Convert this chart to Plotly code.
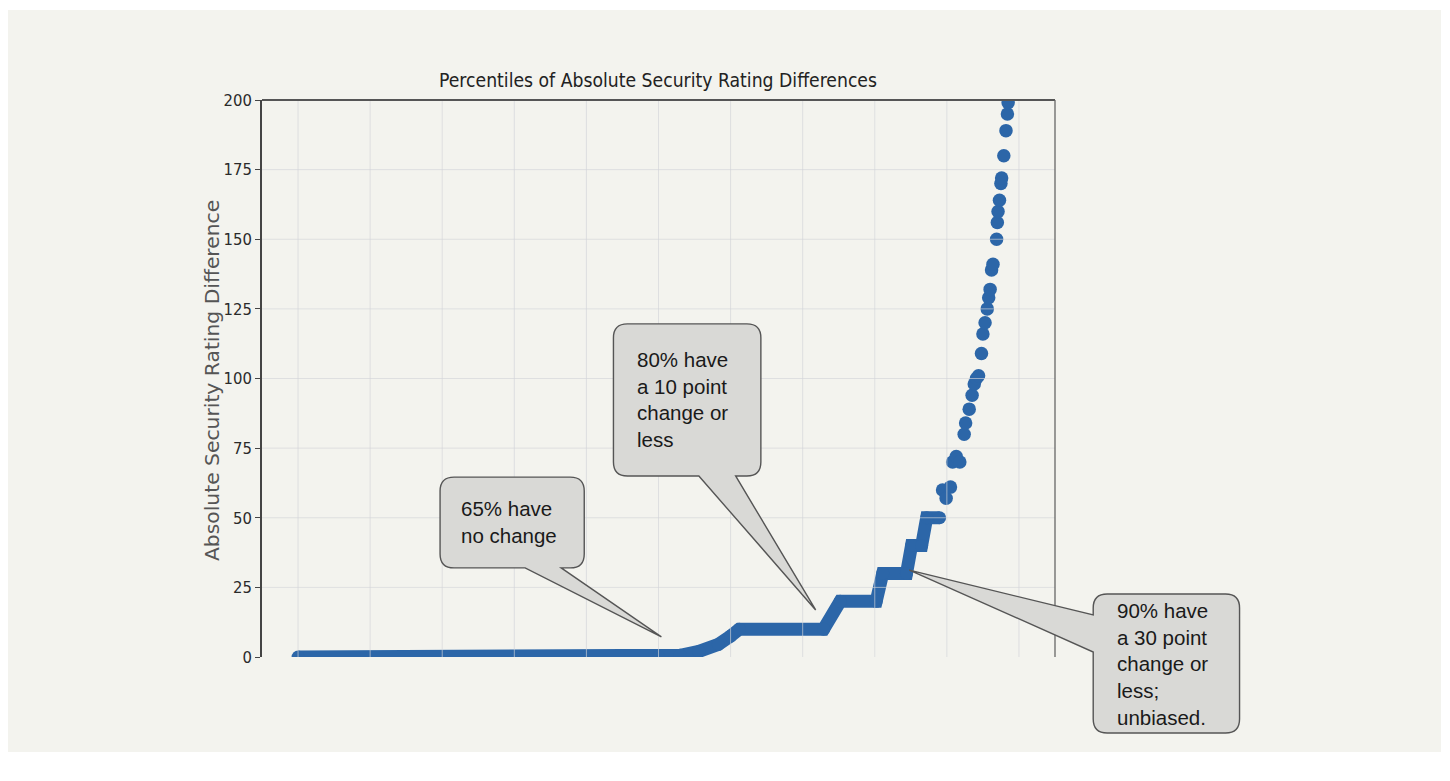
import plotly.graph_objects as go

# ---------------- data ----------------
band_pct = [0, 50, 53, 55.6, 58.3, 60.0, 61.2, 72.9, 75.2, 80.2, 81.1, 84.4, 85.1, 86.5, 87.2, 89.0]
band_val = [0, 0, 0.6, 2, 4.5, 7.5, 10, 10, 20, 20, 30, 30, 40, 40, 50, 50]

dot_pct = [89.4, 89.9, 90.5, 90.8, 91.3, 91.8, 92.4, 92.6, 93.1, 93.5, 93.8, 94.1, 94.4,
           94.8, 95.0, 95.3, 95.6, 95.8, 96.0, 96.2, 96.4, 96.9, 97.0, 97.1, 97.3, 97.5,
           97.6, 97.9, 98.2, 98.4, 98.5]
dot_val = [60, 57, 61, 70, 72, 70, 80, 84, 89, 94, 98, 100, 101,
           109, 116, 120, 125, 129, 132, 139, 141, 150, 156, 160, 164, 170,
           172, 180, 189, 195, 199]

y_ticks = [0, 25, 50, 75, 100, 125, 150, 175, 200]
x_grid = [0, 10, 20, 30, 40, 50, 60, 70, 80, 90, 100]

title_text = "Percentiles of Absolute Security Rating Differences"
y_title = "Absolute Security Rating Difference"

# callouts: text, box (x0, x1, y0, y1 in data units), tail base, tip (data units)
callouts = [
    dict(text="65% have<br>no change", box=(19.7, 39.7, 32.0, 64.6),
         side="bottom", base=(31.5, 36.5), tip=(50.4, 7.2), tx=22.3),
    dict(text="80% have<br>a 10 point<br>change or<br>less", box=(43.75, 64.2, 65.0, 119.6),
         side="bottom", base=(55.6, 60.7), tip=(71.8, 16.9), tx=46.8),
    dict(text="90% have<br>a 30 point<br>change or<br>less;<br>unbiased.", box=(110.3, 130.6, -27.3, 22.6),
         side="left", base=(15.1, 1.8), tip=(84.8, 31.2), tx=113.3),
]

# ---------------- layout geometry (page pixels) ----------------
OX, OY = 8, 8                     # page body margin
W, H = 1450 - 2 * OX, 781 - 2 * OY
L, R, T, B = 262 - OX, 1055 - OX, 100 - OY, 657 - OY
xr = [-5, 105]
yr = [0, 200]
BG = "#f3f3ee"
BLUE = "#2c66a8"
NARROW = "DejaVu Sans Condensed, Liberation Sans Narrow, sans-serif"
GRID = "rgba(210,212,216,0.65)"


def d2px(x, y):
    X = L + (x - xr[0]) / (xr[1] - xr[0]) * (R - L)
    Y = B - (y - yr[0]) / (yr[1] - yr[0]) * (B - T)
    return X, Y


def px2p(X, Y):
    return (X - L) / (R - L), (B - Y) / (B - T)


def page2p(X, Y):
    return px2p(X - OX, Y - OY)


def callout_path(c, r=14):
    x0, x1, y0, y1 = c["box"]
    X0, Yb = d2px(x0, y0)
    X1, Yt = d2px(x1, y1)
    tipX, tipY = d2px(*c["tip"])
    pts = []
    pts.append(("M", [(X0 + r, Yt)]))
    pts.append(("L", [(X1 - r, Yt)]))
    pts.append(("Q", [(X1, Yt), (X1, Yt + r)]))
    pts.append(("L", [(X1, Yb - r)]))
    pts.append(("Q", [(X1, Yb), (X1 - r, Yb)]))
    if c["side"] == "bottom":
        a, _ = d2px(c["base"][0], 0)
        b, _ = d2px(c["base"][1], 0)
        pts.append(("L", [(b, Yb)]))
        pts.append(("L", [(tipX, tipY)]))
        pts.append(("L", [(a, Yb)]))
    pts.append(("L", [(X0 + r, Yb)]))
    pts.append(("Q", [(X0, Yb), (X0, Yb - r)]))
    if c["side"] == "left":
        _, ya = d2px(0, c["base"][0])
        _, yb = d2px(0, c["base"][1])
        pts.append(("L", [(X0, yb)]))
        pts.append(("L", [(tipX, tipY)]))
        pts.append(("L", [(X0, ya)]))
    pts.append(("L", [(X0, Yt + r)]))
    pts.append(("Q", [(X0, Yt), (X0 + r, Yt)]))
    s = ""
    for cmd, ps in pts:
        s += cmd + " " + " ".join("%.5f,%.5f" % px2p(*p) for p in ps) + " "
    return s + "Z"


fig = go.Figure()

fig.add_trace(go.Scatter(
    x=band_pct, y=band_val, mode="lines+markers",
    line=dict(color=BLUE, width=13),
    marker=dict(color=BLUE, size=13),
    hoverinfo="skip", showlegend=False))

fig.add_trace(go.Scatter(
    x=dot_pct, y=dot_val, mode="markers",
    marker=dict(color=BLUE, size=13.5),
    hoverinfo="skip", showlegend=False))

shapes = []
# panel background
px0, py0 = page2p(5, 10)
px1, py1 = page2p(1441, 752)
shapes.append(dict(type="rect", xref="paper", yref="paper", x0=px0, y0=py1, x1=px1, y1=py0,
                   fillcolor=BG, line=dict(width=0), layer="below"))
# grid drawn over the data
for gx in x_grid:
    shapes.append(dict(type="line", xref="x", yref="paper", x0=gx, x1=gx, y0=0, y1=1,
                       line=dict(color=GRID, width=1), layer="above"))
for gy in y_ticks[1:-1]:
    shapes.append(dict(type="line", xref="paper", yref="y", x0=0, x1=1, y0=gy, y1=gy,
                       line=dict(color=GRID, width=1), layer="above"))
# spines: top and right
shapes.append(dict(type="line", xref="paper", yref="paper", x0=0, x1=1, y0=1, y1=1,
                   line=dict(color="#555555", width=2.2), layer="above"))
shapes.append(dict(type="line", xref="paper", yref="paper", x0=1, x1=1, y0=0, y1=1,
                   line=dict(color="#666666", width=1.3), layer="above"))
# callouts
for c in callouts:
    shapes.append(dict(type="path", xref="paper", yref="paper", path=callout_path(c),
                       fillcolor="#d9d9d6", line=dict(color="#555555", width=1.4), layer="above"))

annotations = []
for c in callouts:
    x0, x1, y0, y1 = c["box"]
    X, _ = d2px(c["tx"], 0)
    _, Ym = d2px(0, (y0 + y1) / 2)
    ax, ay = px2p(X, Ym)
    annotations.append(dict(text=c["text"], xref="paper", yref="paper", x=ax, y=ay,
                            xanchor="left", yanchor="middle", align="left", showarrow=False,
                            font=dict(family="Liberation Sans, Arial, sans-serif", size=20.5,
                                      color="#1a1a1a")))

tx, ty = page2p(658, 80)
annotations.append(dict(text=title_text, xref="paper", yref="paper", x=tx, y=ty,
                        xanchor="center", yanchor="middle", showarrow=False,
                        font=dict(family=NARROW, size=19.2, color="#222222")))
yx, yy = page2p(212, 381)
annotations.append(dict(text=y_title, xref="paper", yref="paper", x=yx, y=yy,
                        xanchor="center", yanchor="middle", showarrow=False, textangle=-90,
                        font=dict(family="DejaVu Sans, sans-serif", size=20.3, color="#555555")))

fig.update_layout(
    width=W, height=H,
    margin=dict(l=L, r=W - R, t=T, b=H - B, pad=0),
    paper_bgcolor="white", plot_bgcolor=BG,
    shapes=shapes, annotations=annotations,
    xaxis=dict(range=xr, showgrid=False, zeroline=False, showticklabels=False,
               showline=False, ticks=""),
    yaxis=dict(range=yr, tickvals=y_ticks, showgrid=False, zeroline=False,
               showline=True, linecolor="#444444", linewidth=1.5,
               ticks="outside", ticklen=5, tickcolor="#444444", tickwidth=1.3,
               tickfont=dict(family=NARROW, size=16.5, color="#2a2a2a")),
)

fig.write_html("out.html")
